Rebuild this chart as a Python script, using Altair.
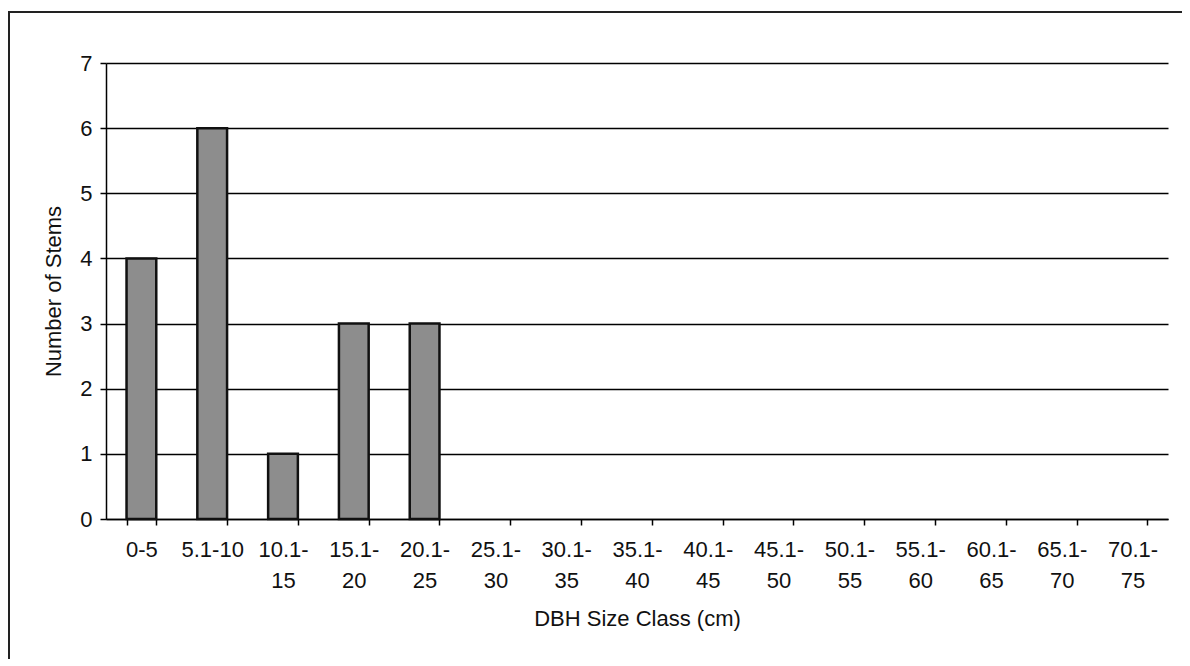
import altair as alt
import pandas as pd

categories = ["0-5", "5.1-10", "10.1-15", "15.1-20", "20.1-25", "25.1-30", "30.1-35",
              "35.1-40", "40.1-45", "45.1-50", "50.1-55", "55.1-60", "60.1-65",
              "65.1-70", "70.1-75"]
stems = [4, 6, 1, 3, 3, 0, 0, 0, 0, 0, 0, 0, 0, 0, 0]
y_ticks = [0, 1, 2, 3, 4, 5, 6, 7]

df = pd.DataFrame({"cls": categories, "n": stems})

W, H = 1062, 456
FONT = "Liberation Sans"

label_expr = ("length(datum.label) > 6 ? [substring(datum.label, 0, indexof(datum.label, '-') + 1), "
              "substring(datum.label, indexof(datum.label, '-') + 1)] : datum.label")

bars = alt.Chart(df).transform_filter("datum.n > 0").mark_bar(
    fill="#8d8d8d", stroke="#111111", strokeWidth=2.5
).encode(
    x=alt.X("cls:N", sort=categories,
            scale=alt.Scale(domain=categories, paddingInner=0.58, paddingOuter=0.29),
            axis=alt.Axis(title="DBH Size Class (cm)", labelAngle=0, labelExpr=label_expr,
                          tickBand="extent", tickSize=6, tickColor="black", tickWidth=1.5,
                          domainColor="black", domainWidth=1.5,
                          labelFont=FONT, labelFontSize=22, labelColor="#111",
                          labelPadding=14, labelLineHeight=31,
                          titleFont=FONT, titleFontSize=22, titleFontWeight="normal",
                          titleColor="#111", titlePadding=17)),
    y=alt.Y("n:Q", scale=alt.Scale(domain=[0, 7], nice=False),
            axis=alt.Axis(title="Number of Stems", values=y_ticks, labelOverlap=False,
                          grid=True, gridColor="black", gridWidth=1.4,
                          tickSize=6, tickColor="black", tickWidth=1.5,
                          domainColor="black", domainWidth=1.5,
                          labelFont=FONT, labelFontSize=22, labelColor="#111", labelPadding=8,
                          titleFont=FONT, titleFontSize=22, titleFontWeight="normal",
                          titleColor="#111", titlePadding=14)),
)

frame = alt.Chart(df).mark_rect(fill=None, stroke="#222", strokeWidth=2).encode(
    x=alt.value(-97), x2=alt.value(1078), y=alt.value(-51), y2=alt.value(597)
)

chart = alt.layer(bars, frame).properties(
    width=W, height=H,
    autosize=alt.AutoSizeParams(type="none"),
    padding={"left": 98, "top": 55, "right": 14, "bottom": 140},
    background="white",
).configure_view(stroke=None)

chart.save("out.html", embed_options={"renderer": "svg", "actions": False})
